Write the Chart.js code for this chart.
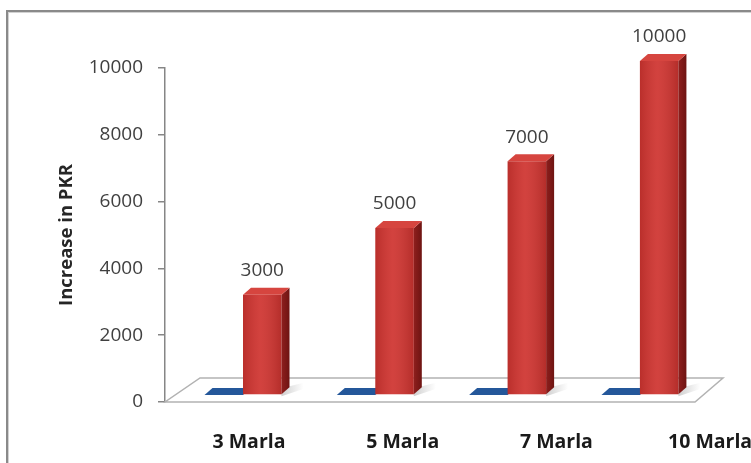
<!DOCTYPE html>
<html><head><meta charset="utf-8">
<script src="https://cdn.jsdelivr.net/npm/chart.js@4/dist/chart.umd.min.js"></script>
<style>
html,body{margin:0;padding:0;width:751px;height:463px;overflow:hidden;background:#fff}
#frame{position:absolute;left:6px;top:10px;width:900px;height:600px;border-left:2px solid #8a8a8a;border-top:2px solid #8a8a8a;box-shadow:inset 1px 1px 0 #d2d2d2}
#c{position:absolute;left:0;top:0}
</style></head><body>
<div id="frame"></div>
<canvas id="c" width="800" height="480"></canvas>
<script>
// ---- data ----
const categories = ['3 Marla', '5 Marla', '7 Marla', '10 Marla'];
const seriesBlue = [0, 0, 0, 0];
const seriesRed = [3000, 5000, 7000, 10000];
const yTicks = [0, 2000, 4000, 6000, 8000, 10000];
const yTitle = 'Increase in PKR';

// ---- 3D look ----
const DX = 8, DY = 7, LIFT = 7;
const FONT = "'Open Sans', sans-serif";

function decorate(ctx, el, faces, isZero) {
  const {x, y, base, width} = el.getProps(['x', 'y', 'base', 'width'], true);
  const x0 = x - width / 2, x1 = x + width / 2;
  const yt = y - LIFT, yb = base - LIFT;
  if (!isZero) {
    const g = ctx.createLinearGradient(x0, 0, x1, 0);
    g.addColorStop(0, 'rgba(0,0,0,0.10)');
    g.addColorStop(0.45, 'rgba(255,255,255,0.07)');
    g.addColorStop(1, 'rgba(0,0,0,0.13)');
    ctx.fillStyle = g;
    ctx.fillRect(x0, yt, width, yb - yt);
    ctx.beginPath();
    ctx.moveTo(x1, yb); ctx.lineTo(x1 + DX, yb - DY);
    ctx.lineTo(x1 + DX, yt - DY); ctx.lineTo(x1, yt); ctx.closePath();
    const gs = ctx.createLinearGradient(x1, 0, x1 + DX, 0);
    gs.addColorStop(0, faces.side); gs.addColorStop(1, faces.sideDark);
    ctx.fillStyle = gs; ctx.fill();
  }
  ctx.beginPath();
  ctx.moveTo(x0, yt); ctx.lineTo(x1, yt);
  ctx.lineTo(x1 + DX, yt - DY); ctx.lineTo(x0 + DX, yt - DY); ctx.closePath();
  ctx.fillStyle = faces.top; ctx.fill();
}

const depthPlugin = {
  id: 'depth3d',
  beforeDatasetsDraw(chart) {
    const {ctx, chartArea: a} = chart;
    ctx.save();
    ctx.beginPath();
    ctx.moveTo(a.left, a.bottom);
    ctx.lineTo(a.right - 28, a.bottom);
    ctx.lineTo(a.right, a.bottom - 24);
    ctx.lineTo(a.left + 35, a.bottom - 24);
    ctx.closePath();
    ctx.fillStyle = '#ffffff'; ctx.fill();
    ctx.lineWidth = 1.5; ctx.strokeStyle = '#b2b2b2'; ctx.stroke();
    // soft shadows on the floor to the right of the bars
    const red = chart.getDatasetMeta(1).data;
    red.forEach(el => {
      const {x, base, width} = el.getProps(['x', 'base', 'width'], true);
      const gx = ctx.createLinearGradient(x + width / 2, 0, x + width / 2 + 22, 0);
      gx.addColorStop(0, 'rgba(120,120,120,0.35)');
      gx.addColorStop(1, 'rgba(120,120,120,0)');
      ctx.fillStyle = gx;
      ctx.beginPath();
      ctx.moveTo(x + width / 2, base - LIFT + 2);
      ctx.lineTo(x + width / 2 + 24, base - LIFT - 6);
      ctx.lineTo(x + width / 2 + 24, base - LIFT - 12);
      ctx.lineTo(x + width / 2, base - LIFT - 6);
      ctx.closePath();
      ctx.fill();
    });
    // zero-height bars (flat tops) go under everything else
    chart.data.datasets.forEach((ds, di) => {
      chart.getDatasetMeta(di).data.forEach((el, i) => {
        if (ds.data[i].y === 0) decorate(ctx, el, ds.faces, true);
      });
    });
    ctx.restore();
    ctx.save();
    ctx.translate(0, -LIFT);
  },
  afterDatasetsDraw(chart) {
    const {ctx} = chart;
    ctx.restore();
    ctx.save();
    chart.data.datasets.forEach((ds, di) => {
      chart.getDatasetMeta(di).data.forEach((el, i) => {
        if (ds.data[i].y !== 0) decorate(ctx, el, ds.faces, false);
      });
    });
    // value labels on the red series
    const di = 1, ds = chart.data.datasets[di];
    ctx.fillStyle = '#404040';
    ctx.font = '19px ' + FONT;
    ctx.textAlign = 'center';
    ctx.textBaseline = 'middle';
    chart.getDatasetMeta(di).data.forEach((el, i) => {
      const {x, y} = el.getProps(['x', 'y'], true);
      ctx.fillText(String(ds.data[i].y), x, y - LIFT - 24);
    });
    ctx.restore();
  }
};

new Chart(document.getElementById('c'), {
  type: 'bar',
  data: {
    datasets: [
      {
        label: 'Series 1',
        data: seriesBlue.map((v, i) => ({x: i, y: v})),
        backgroundColor: '#1f4e8c',
        faces: {top: '#24579a', side: '#163a6b', sideDark: '#10294d'},
        clip: false
      },
      {
        label: 'Series 2',
        data: seriesRed.map((v, i) => ({x: i, y: v})),
        backgroundColor: '#cf3430',
        faces: {top: '#d6453f', side: '#8e1f1d', sideDark: '#6e1412'},
        clip: false
      }
    ]
  },
  options: {
    responsive: false,
    animation: false,
    categoryPercentage: 0.582,
    barPercentage: 1,
    layout: {padding: {left: 56, top: 68, right: 77, bottom: 26}},
    plugins: {legend: {display: false}, tooltip: {enabled: false}},
    scales: {
      x: {
        type: 'linear', display: false, offset: false,
        min: -0.5896, max: 3.628,
        afterBuildTicks: s => { s.ticks = categories.map((_, i) => ({value: i})); },
        grid: {offset: false}
      },
      x2: {
        type: 'linear', position: 'bottom', offset: false,
        min: -0.5465, max: 3.084,
        afterBuildTicks: s => { s.ticks = categories.map((_, i) => ({value: i})); },
        afterFit: s => { s.height = 52; },
        grid: {display: false, drawTicks: false, offset: false},
        border: {display: false},
        ticks: {
          callback: v => categories[v],
          color: '#1a1a1a',
          font: {family: FONT, size: 19.5, weight: 'bold'},
          padding: 29,
          maxRotation: 0, autoSkip: false
        }
      },
      y: {
        min: 0, max: 10000,
        afterBuildTicks: s => { s.ticks = yTicks.map(v => ({value: v})); },
        afterFit: s => { s.width = 109; },
        border: {display: true, color: '#868686', width: 1.5},
        grid: {display: true, drawOnChartArea: false, drawTicks: true, tickLength: 7, color: '#868686', lineWidth: 1.5},
        ticks: {color: '#404040', font: {family: FONT, size: 19}, padding: 15, callback: v => String(v)},
        title: {
          display: true, text: yTitle, color: '#262626',
          font: {family: FONT, size: 18.5, weight: 'bold'},
          padding: {top: 0, bottom: 10}
        }
      }
    }
  },
  plugins: [depthPlugin]
});
</script>
</body></html>
